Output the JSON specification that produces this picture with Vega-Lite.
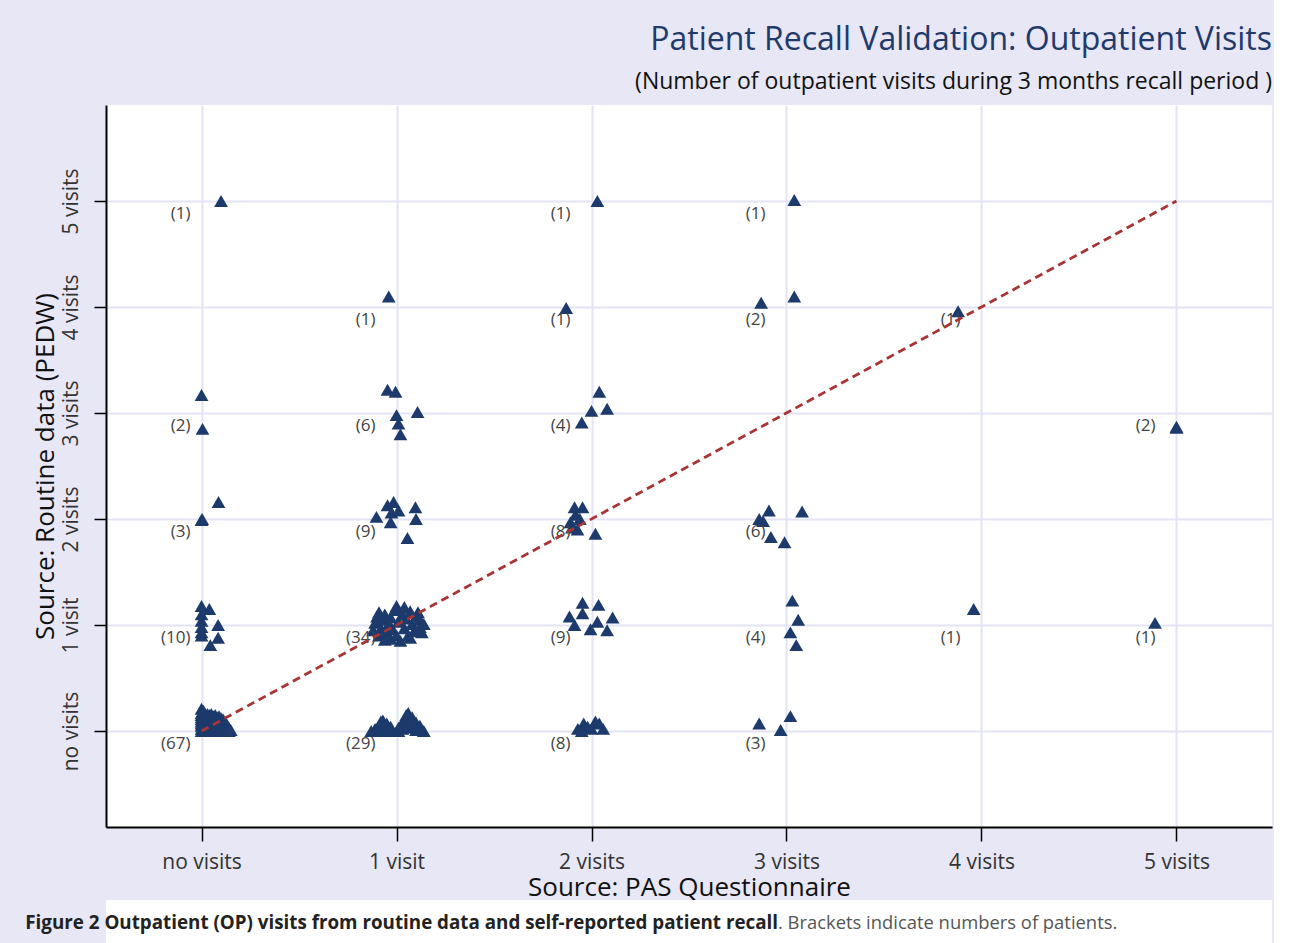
{
  "$schema": "https://vega.github.io/schema/vega-lite/v6.json",
  "background": "#E7E7F5",
  "padding": {"left": 25, "top": 24, "right": 2, "bottom": 0},
  "config": {"view": {"stroke": null}, "font": "Open Sans"},
  "datasets": {
    "pts": [
      {"x":0.10,"y":5.0},{"x":2.03,"y":5.0},{"x":3.04,"y":5.01},
      {"x":0.96,"y":4.10},{"x":1.87,"y":3.99},{"x":2.87,"y":4.04},{"x":3.04,"y":4.10},{"x":3.88,"y":3.96},
      {"x":0.0,"y":3.17},{"x":0.005,"y":2.85},
      {"x":0.954,"y":3.22},{"x":0.995,"y":3.20},{"x":1.108,"y":3.01},{"x":1.0,"y":2.98},{"x":1.01,"y":2.90},{"x":1.02,"y":2.80},
      {"x":2.04,"y":3.20},{"x":2.0,"y":3.02},{"x":2.08,"y":3.04},{"x":1.95,"y":2.91},
      {"x":5.0,"y":2.86},{"x":5.0,"y":2.87},
      {"x":0.087,"y":2.16},{"x":0.0,"y":1.99},{"x":0.003,"y":2.0},
      {"x":0.897,"y":2.02},{"x":0.954,"y":2.13},{"x":0.985,"y":2.16},{"x":0.97,"y":1.97},{"x":0.974,"y":2.06},{"x":1.097,"y":2.11},{"x":1.10,"y":2.0},{"x":1.056,"y":1.82},{"x":1.01,"y":2.08},
      {"x":1.913,"y":2.11},{"x":1.954,"y":2.11},{"x":1.918,"y":2.04},{"x":1.892,"y":1.97},{"x":1.928,"y":1.90},{"x":2.02,"y":1.86},{"x":1.90,"y":1.92},{"x":1.94,"y":2.00},
      {"x":2.91,"y":2.08},{"x":3.08,"y":2.07},{"x":2.86,"y":2.0},{"x":2.88,"y":1.98},{"x":2.92,"y":1.83},{"x":2.99,"y":1.78},
      {"x":0.0,"y":1.18},{"x":0.04,"y":1.15},{"x":0.0,"y":1.10},{"x":0.0,"y":1.04},{"x":0.0,"y":0.98},{"x":0.0,"y":0.93},{"x":0.085,"y":1.0},{"x":0.085,"y":0.88},{"x":0.045,"y":0.81},{"x":0.0,"y":0.90},
      {"x":0.88,"y":0.95},{"x":0.89,"y":1.02},{"x":0.90,"y":1.08},{"x":0.91,"y":0.90},{"x":0.91,"y":1.12},{"x":0.92,"y":0.97},{"x":0.93,"y":1.05},{"x":0.94,"y":0.86},{"x":0.94,"y":1.10},{"x":0.95,"y":0.93},{"x":0.96,"y":1.01},{"x":0.97,"y":0.87},{"x":0.97,"y":1.07},{"x":0.98,"y":0.96},{"x":0.99,"y":1.14},{"x":1.0,"y":0.90},{"x":1.0,"y":1.18},{"x":1.01,"y":1.03},{"x":1.02,"y":0.85},{"x":1.03,"y":1.10},{"x":1.04,"y":0.97},{"x":1.04,"y":1.17},{"x":1.05,"y":1.06},{"x":1.06,"y":0.90},{"x":1.07,"y":1.13},{"x":1.08,"y":1.01},{"x":1.09,"y":0.94},{"x":1.10,"y":1.08},{"x":1.11,"y":1.12},{"x":1.12,"y":0.98},{"x":1.12,"y":1.05},{"x":1.13,"y":0.93},{"x":1.14,"y":1.01},{"x":1.07,"y":0.88},
      {"x":1.954,"y":1.21},{"x":2.036,"y":1.19},{"x":1.954,"y":1.11},{"x":1.887,"y":1.08},{"x":1.913,"y":1.0},{"x":2.03,"y":1.03},{"x":2.108,"y":1.07},{"x":1.995,"y":0.96},{"x":2.08,"y":0.95},
      {"x":3.03,"y":1.23},{"x":3.06,"y":1.05},{"x":3.02,"y":0.93},{"x":3.05,"y":0.81},
      {"x":3.96,"y":1.15},{"x":4.89,"y":1.02},
      {"x":0.0,"y":0.21},{"x":0.0,"y":0.17},{"x":0.0,"y":0.13},{"x":0.0,"y":0.09},{"x":0.0,"y":0.05},{"x":0.0,"y":0.02},{"x":0.0,"y":0.0},{"x":0.0,"y":0.11},{"x":0.0,"y":0.07},{"x":0.0,"y":0.15},
      {"x":0.01,"y":0.19},{"x":0.01,"y":0.03},
      {"x":0.02,"y":0.14},{"x":0.02,"y":0.10},{"x":0.02,"y":0.06},{"x":0.02,"y":0.02},{"x":0.02,"y":0.0},{"x":0.02,"y":0.12},{"x":0.02,"y":0.08},
      {"x":0.03,"y":0.16},{"x":0.03,"y":0.01},
      {"x":0.04,"y":0.15},{"x":0.04,"y":0.11},{"x":0.04,"y":0.07},{"x":0.04,"y":0.03},{"x":0.04,"y":0.0},{"x":0.04,"y":0.13},{"x":0.04,"y":0.05},
      {"x":0.05,"y":0.16},{"x":0.05,"y":0.12},{"x":0.05,"y":0.08},{"x":0.05,"y":0.04},{"x":0.05,"y":0.01},
      {"x":0.06,"y":0.14},{"x":0.06,"y":0.10},{"x":0.06,"y":0.06},{"x":0.06,"y":0.02},{"x":0.06,"y":0.0},
      {"x":0.07,"y":0.15},{"x":0.07,"y":0.11},{"x":0.07,"y":0.07},{"x":0.07,"y":0.03},
      {"x":0.08,"y":0.13},{"x":0.08,"y":0.09},{"x":0.08,"y":0.05},{"x":0.08,"y":0.01},{"x":0.08,"y":0.0},
      {"x":0.09,"y":0.14},{"x":0.09,"y":0.10},{"x":0.09,"y":0.06},{"x":0.09,"y":0.02},
      {"x":0.10,"y":0.12},{"x":0.10,"y":0.08},{"x":0.10,"y":0.04},{"x":0.10,"y":0.0},
      {"x":0.11,"y":0.11},{"x":0.11,"y":0.07},{"x":0.11,"y":0.03},
      {"x":0.12,"y":0.09},{"x":0.12,"y":0.05},{"x":0.12,"y":0.01},
      {"x":0.13,"y":0.06},{"x":0.13,"y":0.02},{"x":0.13,"y":0.0},
      {"x":0.14,"y":0.03},{"x":0.14,"y":0.0},
      {"x":0.15,"y":0.01},
      {"x":0.87,"y":0.0},{"x":0.89,"y":0.02},{"x":0.89,"y":0.0},{"x":0.91,"y":0.05},{"x":0.91,"y":0.01},{"x":0.92,"y":0.09},{"x":0.92,"y":0.03},{"x":0.93,"y":0.10},{"x":0.93,"y":0.04},{"x":0.93,"y":0.0},{"x":0.95,"y":0.07},{"x":0.95,"y":0.02},{"x":0.97,"y":0.04},{"x":0.97,"y":0.0},{"x":1.01,"y":0.03},{"x":1.01,"y":0.0},{"x":1.03,"y":0.08},{"x":1.03,"y":0.02},{"x":1.05,"y":0.15},{"x":1.05,"y":0.10},{"x":1.05,"y":0.04},{"x":1.06,"y":0.17},{"x":1.06,"y":0.06},{"x":1.08,"y":0.13},{"x":1.08,"y":0.03},{"x":1.10,"y":0.08},{"x":1.10,"y":0.01},{"x":1.12,"y":0.05},{"x":1.14,"y":0.0},
      {"x":1.93,"y":0.02},{"x":1.96,"y":0.07},{"x":1.98,"y":0.04},{"x":2.02,"y":0.09},{"x":2.04,"y":0.07},{"x":2.06,"y":0.02},{"x":2.0,"y":0.02},{"x":1.95,"y":0.0},
      {"x":2.86,"y":0.07},{"x":3.02,"y":0.14},{"x":2.97,"y":0.01}
    ],
    "diag": [{"x":0,"y":0},{"x":5,"y":5}],
    "labels": [
      {"x":0,"y":5,"lab":"(1)"},{"x":2,"y":5,"lab":"(1)"},{"x":3,"y":5,"lab":"(1)"},
      {"x":1,"y":4,"lab":"(1)"},{"x":2,"y":4,"lab":"(1)"},{"x":3,"y":4,"lab":"(2)"},{"x":4,"y":4,"lab":"(1)"},
      {"x":0,"y":3,"lab":"(2)"},{"x":1,"y":3,"lab":"(6)"},{"x":2,"y":3,"lab":"(4)"},{"x":5,"y":3,"lab":"(2)"},
      {"x":0,"y":2,"lab":"(3)"},{"x":1,"y":2,"lab":"(9)"},{"x":2,"y":2,"lab":"(8)"},{"x":3,"y":2,"lab":"(6)"},
      {"x":0,"y":1,"lab":"(10)"},{"x":1,"y":1,"lab":"(34)"},{"x":2,"y":1,"lab":"(9)"},{"x":3,"y":1,"lab":"(4)"},{"x":4,"y":1,"lab":"(1)"},{"x":5,"y":1,"lab":"(1)"},
      {"x":0,"y":0,"lab":"(67)"},{"x":1,"y":0,"lab":"(29)"},{"x":2,"y":0,"lab":"(8)"},{"x":3,"y":0,"lab":"(3)"}
    ],
    "cap": [{"bold": "Figure 2 Outpatient (OP) visits from routine data and self-reported patient recall", "reg": ". Brackets indicate numbers of patients."}]
  },
  "spacing": 0,
  "vconcat": [
    {
      "width": 1166,
      "height": 722,
      "view": {"fill": "white", "stroke": null},
      "title": {
        "text": "Patient Recall Validation: Outpatient Visits",
        "subtitle": "(Number of outpatient visits during 3 months recall period )",
        "anchor": "end",
        "font": "Open Sans",
        "fontSize": 32,
        "fontWeight": "normal",
        "color": "#1F3A6B",
        "subtitleFont": "Open Sans",
        "subtitleFontSize": 23,
        "subtitleColor": "#111111",
        "subtitlePadding": 14,
        "offset": 10
      },
      "encoding": {
        "x": {
          "field": "x", "type": "quantitative",
          "scale": {"domain": [-0.49, 5.49], "nice": false, "zero": false},
          "axis": {
            "values": [0,1,2,3,4,5],
            "labelExpr": "datum.value == 0 ? 'no visits' : datum.value == 1 ? '1 visit' : datum.value + ' visits'",
            "grid": true, "gridColor": "#E3E3F5", "gridWidth": 2,
            "domainColor": "#000000", "domainWidth": 2,
            "tickColor": "#000000", "tickWidth": 1.5, "tickSize": 14,
            "labelFontSize": 21, "labelColor": "#333333", "labelPadding": 10, "labelFont": "Open Sans",
            "title": "Source: PAS Questionnaire", "titleFontSize": 26, "titleFontWeight": "normal", "titleColor": "#111111", "titlePadding": 2, "titleFont": "Open Sans"
          }
        },
        "y": {
          "field": "y", "type": "quantitative",
          "scale": {"domain": [-0.906, 5.906], "nice": false, "zero": false},
          "axis": {
            "values": [0,1,2,3,4,5],
            "labelExpr": "datum.value == 0 ? 'no visits' : datum.value == 1 ? '1 visit' : datum.value + ' visits'",
            "labelAngle": -90, "labelAlign": "center", "labelBaseline": "bottom",
            "grid": true, "gridColor": "#E3E3F5", "gridWidth": 2,
            "domainColor": "#000000", "domainWidth": 2,
            "tickColor": "#000000", "tickWidth": 1.5, "tickSize": 12,
            "labelFontSize": 21, "labelColor": "#333333", "labelPadding": 13, "labelFont": "Open Sans",
            "title": "Source: Routine data (PEDW)", "titleFontSize": 26, "titleFontWeight": "normal", "titleColor": "#111111", "titlePadding": 2, "titleFont": "Open Sans"
          }
        }
      },
      "layer": [
        {
          "data": {"name": "pts"},
          "mark": {"type": "point", "shape": "triangle-up", "filled": true, "size": 190, "color": "#1C3A6B", "opacity": 1}
        },
        {
          "data": {"name": "labels"},
          "transform": [{"filter": "datum.x == 0"}],
          "mark": {"type": "text", "align": "right", "dx": -11, "dy": 13, "fontSize": 17, "color": "#444444", "font": "Open Sans"},
          "encoding": {"text": {"field": "lab"}}
        },
        {
          "data": {"name": "labels"},
          "transform": [{"filter": "datum.x != 0"}],
          "mark": {"type": "text", "align": "right", "dx": -21, "dy": 13, "fontSize": 17, "color": "#444444", "font": "Open Sans"},
          "encoding": {"text": {"field": "lab"}}
        },
        {
          "data": {"name": "diag"},
          "mark": {"type": "line", "color": "#A83434", "strokeDash": [8, 5], "strokeWidth": 2.8}
        }
      ]
    },
    {
      "width": 1166,
      "height": 46,
      "view": {"fill": "white", "stroke": null},
      "data": {"name": "cap"},
      "layer": [
        {
          "mark": {"type": "text", "align": "right", "dx": 89, "fontSize": 18.8, "fontWeight": "bold", "color": "#222222", "font": "Open Sans"},
          "encoding": {"text": {"field": "bold"}}
        },
        {
          "mark": {"type": "text", "align": "left", "dx": 89, "fontSize": 18.4, "color": "#555555", "font": "Open Sans"},
          "encoding": {"text": {"field": "reg"}}
        }
      ]
    }
  ]
}
